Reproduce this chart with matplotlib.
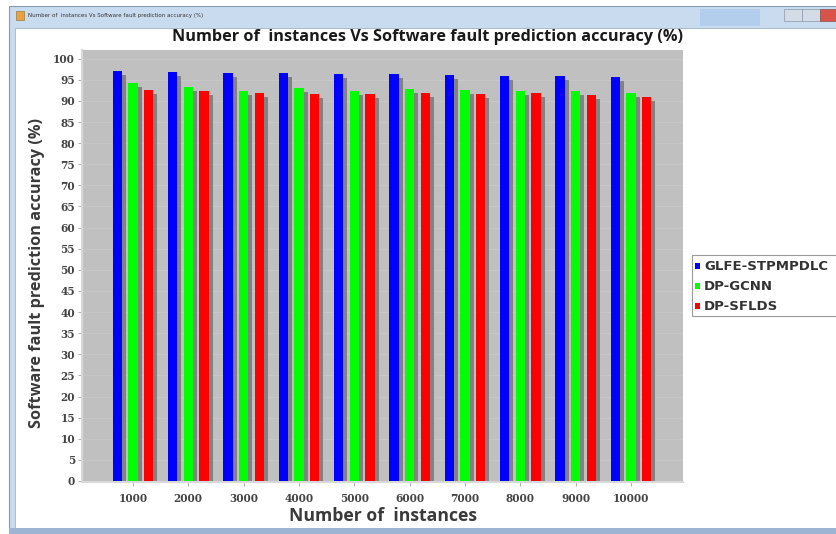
import numpy as np
import matplotlib.pyplot as plt
from matplotlib.patches import Rectangle

W, H = 836, 534

instances = ['1000', '2000', '3000', '4000', '5000', '6000', '7000', '8000', '9000', '10000']
glfe_stpmpdlc = [97.2, 96.8, 96.5, 96.5, 96.4, 96.4, 96.1, 95.9, 95.8, 95.7]
dp_gcnn = [94.2, 93.2, 92.3, 93.0, 92.3, 92.9, 92.7, 92.4, 92.4, 91.8]
dp_sflds = [92.7, 92.4, 91.9, 91.7, 91.7, 91.9, 91.7, 91.8, 91.3, 90.9]

series = [('GLFE-STPMPDLC', glfe_stpmpdlc, '#0000ff'),
          ('DP-GCNN', dp_gcnn, '#00ff00'),
          ('DP-SFLDS', dp_sflds, '#ff0000')]

title = 'Number of  instances Vs Software fault prediction accuracy (%)'


def fx(px):
    return px / W


def fy(py):
    return 1 - py / H


fig = plt.figure(figsize=(W / 100, H / 100), dpi=100)
fig.patch.set_facecolor('white')

# window frame around the chart panel
frame = fig.add_axes([0, 0, 1, 1], zorder=-5)
frame.set_xlim(0, W)
frame.set_ylim(H, 0)
frame.axis('off')
frame.add_patch(Rectangle((9, 6), W, H - 6, facecolor='#c9dbef', edgecolor='#8a9bb0', lw=0.8))
tb = np.linspace(0, 1, 50).reshape(-1, 1)
frame.imshow(tb, cmap=plt.matplotlib.colors.LinearSegmentedColormap.from_list(
    'tb', ['#e6f0fa', '#cadcf0']), extent=(10, W, 28, 7), aspect='auto')
frame.add_patch(Rectangle((700, 9), 60, 17, facecolor='#9fc0ea', edgecolor='none', alpha=0.5))
frame.add_patch(Rectangle((784, 9), 18, 12, facecolor='#d3dbe6', edgecolor='#8c98a8', lw=0.5))
frame.add_patch(Rectangle((802, 9), 18, 12, facecolor='#d3dbe6', edgecolor='#8c98a8', lw=0.5))
frame.add_patch(Rectangle((820, 9), 20, 12, facecolor='#d9534a', edgecolor='#8c5050', lw=0.5))
frame.add_patch(Rectangle((16, 11), 8, 9, facecolor='#e8a23a', edgecolor='#8a6a30', lw=0.4))
frame.text(28, 16, title, fontsize=4, color='#333333', va='center')
frame.add_patch(Rectangle((15, 28), W, 500, facecolor='white', edgecolor='#9fb3c8', lw=0.6))
frame.add_patch(Rectangle((9, 528), W, 6, facecolor='#9db5d3', edgecolor='none'))

# plot area
ax = fig.add_axes([fx(82), fy(482), fx(683) - fx(82), (482 - 50) / H])
ax.set_facecolor('#c0c0c0')
x = np.arange(len(instances))
offsets = [-0.283, 0.0, 0.283]
bw = 0.171
for (name, vals, color), off in zip(series, offsets):
    # drop shadow to the lower right of each bar
    ax.bar(x + off + 0.072, np.array(vals) - 0.95, width=bw, color='#7c7c7c',
           alpha=0.9, zorder=2, linewidth=0)
    ax.bar(x + off, vals, width=bw, color=color, zorder=3, linewidth=0, label=name)

ax.set_xlim(-0.92, 9.94)
ax.set_ylim(-0.24, 102.06)
ax.set_yticks(np.arange(0, 101, 5))
ax.set_xticks(x)
ax.set_xticklabels(instances)
ax.yaxis.grid(True, color='#c9c9c9', lw=0.6, zorder=1)
ax.set_axisbelow(True)
for s in ['top', 'right']:
    ax.spines[s].set_visible(False)
for s in ['left', 'bottom']:
    ax.spines[s].set_color('#d8d8d8')
    ax.spines[s].set_linewidth(1.5)
ax.tick_params(axis='both', colors='#a0a0a0', length=3, width=0.6)
for lab in ax.get_xticklabels() + ax.get_yticklabels():
    lab.set_fontfamily('DejaVu Serif')
    lab.set_fontweight('bold')
    lab.set_fontsize(7.6)
    lab.set_color('#444444')
ax.tick_params(axis='x', pad=5)
ax.tick_params(axis='y', pad=2)

fig.text(fx(427), fy(37), title, ha='center', va='center', fontsize=11.7,
         fontweight='bold', family='Open Sans', color='#1a1a1a')
fig.text(fx(383), fy(516), 'Number of  instances', ha='center', va='center',
         fontsize=12.7, fontweight='bold', family='Open Sans', color='#3a3a3a')
fig.text(fx(37), fy(273), 'Software fault prediction accuracy (%)', ha='center',
         va='center', rotation=90, fontsize=11.7, fontweight='bold',
         family='Open Sans', color='#3a3a3a')

# legend box on the right of the panel
frame.add_patch(Rectangle((692, 255), 160, 61, facecolor='white', edgecolor='#9a9a9a', lw=0.8))
for i, (name, vals, color) in enumerate(series):
    yy = 266 + i * 20
    frame.add_patch(Rectangle((695, yy - 3), 5, 6, facecolor=color, edgecolor='none'))
    frame.text(704, yy, name, fontsize=9.5, fontweight='bold', family='DejaVu Sans',
               color='#333333', va='center')

fig.savefig('out.png', dpi=100, facecolor='white')
